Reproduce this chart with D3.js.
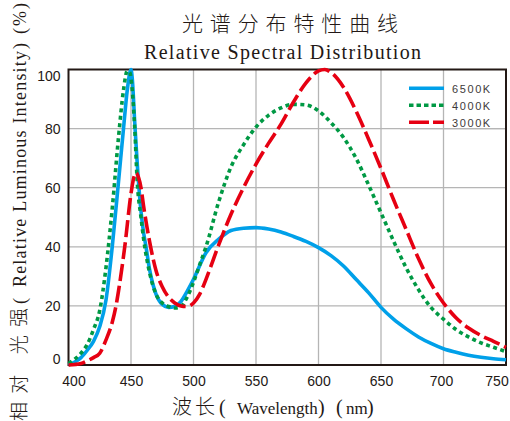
<!DOCTYPE html>
<html><head><meta charset="utf-8">
<script src="https://cdn.jsdelivr.net/npm/d3@7"></script>
<style>
html,body{margin:0;padding:0;background:#fff;}
svg{display:block;}
</style></head>
<body>
<svg id="chart" width="510" height="421"></svg>
<script>
// ---- data ----
const wl6500 = [400,405,410,415,420,425,430,435,440,444,447,450,451,453,456,458,460,462,465,470,475,480,485,490,495,500,510,520,530,540,550,560,570,580,590,600,610,620,630,640,650,660,670,680,690,700,710,720,730,740,750];
const val6500 = [0,1,2.5,5,8,13,22,40,62,80,93,100,97,82,62,52,45,40,32,24,20.5,19.5,19.8,21.5,25,29,38,42.5,45.5,46.3,46.5,46,45,43.5,41.8,39.7,37,33.5,29,24.5,19.5,15.5,12.3,9.5,7.3,5.5,4.3,3.3,2.6,2.1,1.8];
const wl4000 = [400,405,410,415,420,425,430,435,440,444,447,449,451,453,455,458,460,465,470,475,480,485,490,495,500,505,510,520,530,540,550,560,570,580,590,600,610,620,630,640,650,660,670,680,690,700,710,720,730,740,750];
const val4000 = [0.5,2,4,7,12,18.5,33,53,77,93,99.5,99,93,80,62,50,43,31,24,21,19.8,19.3,19.8,23,28,34,40,55,67,74.5,80.5,84.5,87,88.2,88,86,82,77,70,61,51.5,42,33,25.5,19.5,15.5,12,9.5,7.5,6,4.5];
const wl3000 = [400,410,415,420,425,430,435,438,440,445,450,452,454,456,458,460,465,470,475,480,485,490,495,500,505,510,520,530,540,550,560,570,580,590,600,605,610,620,630,640,650,660,670,680,690,700,710,720,730,740,750];
const val3000 = [0,0.5,1.4,2.5,4,8.5,14.5,20,25,40,58,63,65,63.5,60,54,41.5,32,26.5,23,21,20,19.8,21,24,29,40.5,51,60,68,75,81.5,89,95.5,99.5,100,99,94,86,76.5,66.5,56,46,36,27.5,21,16,12.5,10,8,6];
const seriesNames = ["6500K","4000K","3000K"];
const xTicks = [400,450,500,550,600,650,700,750];
const yTicks = [0,20,40,60,80,100];

const svg = d3.select("#chart");
const x = d3.scaleLinear().domain([400,750]).range([68.5,506]);
const y = d3.scaleLinear().domain([0,100]).range([365,69.5]);

// gridlines
svg.append("g").selectAll("line.v").data(xTicks.slice(1,-1)).join("line")
  .attr("x1",d=>x(d)).attr("x2",d=>x(d)).attr("y1",y(0)).attr("y2",y(100))
  .attr("stroke","#b5b5b5").attr("stroke-width",1.3);
svg.append("g").selectAll("line.h").data(yTicks.slice(1,-1)).join("line")
  .attr("x1",x(400)).attr("x2",x(750)).attr("y1",d=>y(d)).attr("y2",d=>y(d))
  .attr("stroke","#b5b5b5").attr("stroke-width",1.3);

// axes tick labels
const xAxis = svg.append("g").attr("transform",`translate(0,${y(0)})`)
  .call(d3.axisBottom(x).tickValues(xTicks).tickSize(0).tickPadding(11));
xAxis.select(".domain").remove();
xAxis.selectAll("text").attr("font-family","'Liberation Sans',Arial,sans-serif").attr("font-size",14).attr("fill","#231815")
  .attr("dx",d=> d===400 ? 5 : d===750 ? -9.5 : d===700 ? -2.5 : 0);
const yAxis = svg.append("g").attr("transform",`translate(${x(400)},0)`)
  .call(d3.axisLeft(y).tickValues(yTicks).tickSize(0).tickPadding(8));
yAxis.select(".domain").remove();
yAxis.selectAll("text").attr("font-family","'Liberation Sans',Arial,sans-serif").attr("font-size",14).attr("fill","#231815")
  .attr("dy",d=> d===100 ? "0.75em" : d===0 ? "-0.1em" : "0.32em");

// frame
svg.append("rect").attr("x",x(400)).attr("y",y(100)).attr("width",x(750)-x(400)).attr("height",y(0)-y(100))
  .attr("fill","none").attr("stroke","#231815").attr("stroke-width",2);

// curves
const styles = [
  {c:"#00a0e9", dash:null},
  {c:"#009944", dash:"4,3.5"},
  {c:"#e60012", dash:"17,5"}
];
const seriesData = [
  wl6500.map((w,i)=>[w,val6500[i]]),
  wl4000.map((w,i)=>[w,val4000[i]]),
  wl3000.map((w,i)=>[w,val3000[i]])
];
const line = d3.line().x(d=>x(d[0])).y(d=>y(d[1])).curve(d3.curveMonotoneX);
seriesData.forEach((s,i)=>{
  svg.append("path").datum(s).attr("d",line).attr("fill","none")
    .attr("stroke",styles[i].c).attr("stroke-width",3.6)
    .attr("stroke-dasharray",styles[i].dash);
});

// legend
svg.append("defs").append("clipPath").attr("id","legclip").append("rect")
  .attr("x",400).attr("y",70).attr("width",106).attr("height",58.5);
const legY = [88.3,105.3,122.3];
const leg = svg.append("g").attr("clip-path","url(#legclip)");
seriesNames.forEach((n,i)=>{
  leg.append("line").attr("x1",409).attr("x2",444).attr("y1",legY[i]).attr("y2",legY[i])
    .attr("stroke",styles[i].c).attr("stroke-width",3.6).attr("stroke-dasharray",i===1?"4.5,3":i===2?"20,4":null);
  leg.append("text").attr("x",452).attr("y",legY[i]+4.5).text(n)
    .attr("font-family","'Liberation Sans',Arial,sans-serif").attr("font-size",11)
    .attr("letter-spacing",1.6).attr("fill","#3e3a39");
});
svg.append("line").attr("x1",400).attr("x2",x(750)-1).attr("y1",y(80)).attr("y2",y(80))
  .attr("stroke","#b5b5b5").attr("stroke-width",1.3);

// titles
svg.append("text").attr("x",290).attr("y",31).attr("text-anchor","middle")
  .attr("font-family","'Noto Sans CJK SC',sans-serif").attr("font-weight",300).attr("font-size",21)
  .attr("fill","#231815").attr("textLength",216).attr("lengthAdjust","spacing").text("光谱分布特性曲线");
svg.append("text").attr("x",282.5).attr("y",59).attr("text-anchor","middle")
  .attr("font-family","'Liberation Serif','Times New Roman',serif").attr("font-size",20)
  .attr("fill","#231815").attr("textLength",277).attr("lengthAdjust","spacing").text("Relative Spectral Distribution");

// x axis title
const xt = [
  {t:"波长", x:172, f:"'Noto Sans CJK SC',sans-serif", s:20, len:43},
  {t:"(", x:219, f:"'Liberation Serif',serif", s:20},
  {t:"Wavelength", x:237, f:"'Liberation Serif',serif", s:17},
  {t:")", x:318, f:"'Liberation Serif',serif", s:20},
  {t:"(", x:336, f:"'Liberation Serif',serif", s:20},
  {t:"nm", x:346, f:"'Liberation Serif',serif", s:17},
  {t:")", x:367, f:"'Liberation Serif',serif", s:20}
];
xt.forEach(d=>{
  const t = svg.append("text").attr("x",d.x).attr("y",414).attr("font-family",d.f).attr("font-size",d.s)
    .attr("font-weight",d.f.includes("CJK")?300:400).attr("fill","#231815").text(d.t);
  if(d.len) t.attr("textLength",d.len).attr("lengthAdjust","spacing");
});

// y axis title (rotated)
const yt = [
  {t:"相对 光强", y0:421, len:113, f:"'Noto Sans CJK SC',sans-serif", s:19},
  {t:"(", y0:304, f:"'Liberation Serif',serif", s:18},
  {t:"Relative Luminous Intensity", y0:287, len:236, f:"'Liberation Serif',serif", s:18},
  {t:")", y0:49, f:"'Liberation Serif',serif", s:18},
  {t:"(%)", y0:34, len:31, f:"'Liberation Serif',serif", s:18}
];
yt.forEach(d=>{
  const t = svg.append("text").attr("transform",`translate(26,${d.y0}) rotate(-90)`)
    .attr("font-family",d.f).attr("font-size",d.s).attr("font-weight",d.f.includes("CJK")?300:400)
    .attr("fill","#231815").text(d.t);
  if(d.len) t.attr("textLength",d.len).attr("lengthAdjust","spacing");
});
</script>
</body></html>
